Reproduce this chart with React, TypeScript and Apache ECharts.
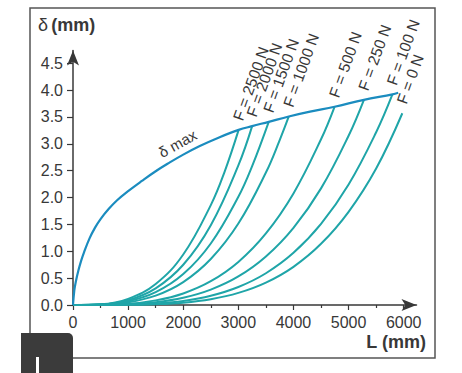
import React, { useEffect, useRef } from 'react';
import * as echarts from 'echarts';

// Axis tick values
const xTickValues = [0, 1000, 2000, 3000, 4000, 5000, 6000];
const xMinorTickValues = [500, 1500, 2500, 3500, 4500, 5500];
const yTickValues = [0, 0.5, 1, 1.5, 2, 2.5, 3, 3.5, 4, 4.5];

// δ max envelope
const deltaMaxL = [0, 25, 50, 100, 150, 200, 300, 400, 500, 650, 800, 1000, 1250, 1500, 1750, 2000, 2300, 2650, 3005, 3250, 3551, 3915, 4300, 4745, 5278, 5795, 5900];
const deltaMaxD = [0, 0.28, 0.43, 0.65, 0.83, 0.98, 1.24, 1.44, 1.6, 1.79, 1.95, 2.12, 2.31, 2.49, 2.65, 2.8, 2.96, 3.12, 3.26, 3.33, 3.41, 3.51, 3.6, 3.69, 3.82, 3.92, 3.95];

// Deflection curves per force
const f2500L = [0, 500, 1000, 1500, 2000, 2500, 2750, 3005];
const f2500D = [0, 0.014, 0.115, 0.391, 0.94, 1.86, 2.48, 3.26];
const f2000L = [0, 500, 1000, 1500, 2000, 2500, 3000, 3250];
const f2000D = [0, 0.011, 0.091, 0.311, 0.749, 1.486, 2.6, 3.33];
const f1500L = [0, 500, 1000, 1500, 2000, 2500, 3000, 3250, 3551];
const f1500D = [0, 0.008, 0.069, 0.238, 0.575, 1.145, 2.015, 2.586, 3.41];
const f1000L = [0, 500, 1000, 1500, 2000, 2500, 3000, 3500, 3750, 3915];
const f1000D = [0, 0.006, 0.051, 0.175, 0.427, 0.856, 1.516, 2.466, 3.07, 3.51];
const f500L = [0, 1000, 1500, 2000, 2500, 3000, 3500, 4000, 4500, 4745];
const f500D = [0, 0.024, 0.086, 0.215, 0.443, 0.802, 1.333, 2.078, 3.085, 3.69];
const f250L = [0, 1000, 1500, 2000, 2500, 3000, 3500, 4000, 4500, 5000, 5278];
const f250D = [0, 0.014, 0.052, 0.135, 0.286, 0.531, 0.903, 1.436, 2.171, 3.151, 3.82];
const f100L = [0, 1000, 1500, 2000, 2500, 3000, 3500, 4000, 4500, 5000, 5500, 5795];
const f100D = [0, 0.007, 0.028, 0.076, 0.172, 0.335, 0.591, 0.971, 1.509, 2.243, 3.216, 3.92];
const f0L = [0, 1000, 1500, 2000, 2500, 3000, 3500, 4000, 4500, 5000, 5500, 5975];
const f0D = [0, 0.003, 0.014, 0.044, 0.109, 0.225, 0.417, 0.711, 1.139, 1.735, 2.541, 3.57];

const forceLabels = ['F = 2500 N', 'F = 2000 N', 'F = 1500 N', 'F = 1000 N', 'F = 500 N', 'F = 250 N', 'F = 100 N', 'F = 0 N'];
const curveLs = [f2500L, f2000L, f1500L, f1000L, f500L, f250L, f100L, f0L];
const curveDs = [f2500D, f2000D, f1500D, f1000D, f500D, f250D, f100D, f0D];

const FONT = "'Liberation Sans', Arial, Helvetica, sans-serif";
const AXIS = '#383838';
const TEAL = '#1fa5a8';
const BLUE = '#1b8cbf';

export default function App() {
  const ref = useRef<HTMLDivElement>(null);
  useEffect(() => {
    const chart = echarts.init(ref.current!, null, { renderer: 'svg' });
    const zip = (L: number[], D: number[]) => L.map((l, i) => [l, D[i]]);
    const series: any[] = curveLs.map((L, i) => ({
      type: 'line',
      name: forceLabels[i],
      data: zip(L, curveDs[i]),
      xAxisIndex: 0,
      yAxisIndex: 0,
      smooth: 0.4,
      showSymbol: false,
      lineStyle: { color: TEAL, width: 2 },
      z: 3,
    }));
    series.push({
      type: 'line',
      name: 'δ max',
      data: zip(deltaMaxL, deltaMaxD),
      xAxisIndex: 0,
      yAxisIndex: 0,
      smooth: 0.4,
      showSymbol: false,
      lineStyle: { color: BLUE, width: 2.2 },
      z: 4,
    });
    const xMax = 6232;
    const yMax = 4.738;
    chart.setOption({
      animation: false,
      backgroundColor: '#ffffff',
      grid: { left: 73, top: 50.5, width: 343.5, height: 254.5, containLabel: false },
      xAxis: [
        {
          type: 'value',
          min: 0,
          max: xMax,
          position: 'bottom',
          splitLine: { show: false },
          axisLine: { show: true, lineStyle: { color: AXIS, width: 1.5 }, symbol: ['none', 'arrow'], symbolSize: [9, 15] },
          axisTick: { show: true, length: 5, lineStyle: { color: AXIS, width: 1.2 }, customValues: xTickValues },
          axisLabel: { show: true, margin: 9, color: AXIS, fontSize: 16, fontFamily: FONT, customValues: xTickValues, formatter: (v: number) => String(v) },
        },
        {
          type: 'value',
          min: 0,
          max: xMax,
          position: 'bottom',
          splitLine: { show: false },
          axisLine: { show: false },
          axisTick: { show: true, length: 3, lineStyle: { color: AXIS, width: 1.2 }, customValues: xMinorTickValues },
          axisLabel: { show: false },
        },
      ],
      yAxis: {
        type: 'value',
        min: 0,
        max: yMax,
        splitLine: { show: false },
        axisLine: { show: true, onZero: false, lineStyle: { color: AXIS, width: 1.5 }, symbol: ['none', 'arrow'], symbolSize: [9, 15] },
        axisTick: { show: true, length: 6, lineStyle: { color: AXIS, width: 1.2 }, customValues: yTickValues },
        axisLabel: { show: true, margin: 10, color: AXIS, fontSize: 16, fontFamily: FONT, customValues: yTickValues, formatter: (v: number) => v.toFixed(1) },
      },
      series,
    });

    const graphics: any[] = [
      {
        type: 'rect',
        shape: { x: 30, y: 8, width: 405, height: 350 },
        style: { fill: 'none', stroke: '#555555', lineWidth: 1.5 },
        z: -1,
      },
      {
        type: 'text',
        x: 38,
        y: 25,
        style: {
          text: '{a|δ} {b|(mm)}',
          verticalAlign: 'middle',
          align: 'left',
          rich: {
            a: { fontSize: 18, fontFamily: FONT, fill: AXIS, fontWeight: 'normal' },
            b: { fontSize: 18, fontFamily: FONT, fill: AXIS, fontWeight: 'bold' },
          },
        },
      },
      {
        type: 'text',
        x: 426,
        y: 342,
        style: { text: 'L (mm)', align: 'right', verticalAlign: 'middle', fontSize: 18, fontWeight: 'bold', fontFamily: FONT, fill: AXIS },
      },
      {
        type: 'text',
        x: 177.5,
        y: 143.5,
        rotation: (29 * Math.PI) / 180,
        style: { text: 'δ max', align: 'center', verticalAlign: 'middle', fontSize: 15, fontFamily: FONT, fill: AXIS },
      },
      {
        type: 'rect',
        shape: { x: 21, y: 333, width: 52, height: 40, r: [0, 5, 0, 0] },
        style: { fill: '#3b3b3b' },
        z: 100,
      },
      {
        type: 'rect',
        shape: { x: 36, y: 357, width: 3, height: 16 },
        style: { fill: '#ffffff' },
        z: 101,
      },
    ];
    curveLs.forEach((L, i) => {
      const last = L.length - 1;
      const p = chart.convertToPixel({ seriesIndex: i }, [L[last], curveDs[i][last]]) as number[];
      graphics.push({
        type: 'text',
        x: p[0] - 1,
        y: p[1] - 10,
        rotation: (70 * Math.PI) / 180,
        style: { text: forceLabels[i], align: 'left', verticalAlign: 'middle', fontSize: 15.5, fontFamily: FONT, fill: AXIS },
      });
    });
    chart.setOption({ graphic: graphics });
    return () => chart.dispose();
  }, []);
  return <div ref={ref} style={{ position: 'fixed', left: 0, top: 0, width: 462, height: 373 }} />;
}
